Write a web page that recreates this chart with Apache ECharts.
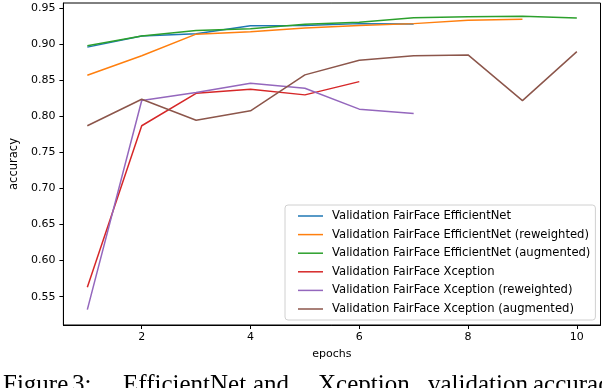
<!DOCTYPE html>
<html>
<head>
<meta charset="utf-8">
<script src="https://cdn.jsdelivr.net/npm/echarts@6/dist/echarts.min.js"></script>
<style>
  html, body { margin: 0; padding: 0; background: #fff; }
  #main { width: 602px; height: 388px; }
</style>
</head>
<body>
<div id="main"></div>
<script>
  // epochs on the x axis
  var epochs = [1, 2, 3, 4, 5, 6, 7, 8, 9, 10];
  var xTicks = [2, 4, 6, 8, 10];
  var yTicks = [0.55, 0.60, 0.65, 0.70, 0.75, 0.80, 0.85, 0.90, 0.95];

  var seriesNames = [
    'Validation FairFace EfficientNet',
    'Validation FairFace EfficientNet (reweighted)',
    'Validation FairFace EfficientNet (augmented)',
    'Validation FairFace Xception',
    'Validation FairFace Xception (reweighted)',
    'Validation FairFace Xception (augmented)'
  ];
  // accuracy per epoch
  var effNet = [0.896, 0.9115, 0.9147, 0.9258, 0.926, 0.9286, 0.928];
  var effNetReweighted = [0.857, 0.884, 0.914, 0.9175, 0.9226, 0.926, 0.9286, 0.9333, 0.9346];
  var effNetAugmented = [0.898, 0.9115, 0.919, 0.9216, 0.9277, 0.9305, 0.9368, 0.938, 0.9388, 0.9364];
  var xception = [0.563, 0.787, 0.832, 0.8377, 0.8298, 0.8482];
  var xceptionReweighted = [0.532, 0.822, 0.833, 0.846, 0.839, 0.810, 0.804];
  var xceptionAugmented = [0.787, 0.8238, 0.7947, 0.8077, 0.8575, 0.8778, 0.8842, 0.8852, 0.8218, 0.8898];

  var allValues = [effNet, effNetReweighted, effNetAugmented, xception, xceptionReweighted, xceptionAugmented];
  var colors = ['#1f77b4', '#ff7f0e', '#2ca02c', '#d62728', '#9467bd', '#8c564b'];

  var font = 'DejaVu Sans';

  function toPairs(vals) {
    var out = [];
    for (var i = 0; i < vals.length; i++) {
      out.push([epochs[i], vals[i]]);
    }
    return out;
  }

  var series = [];
  for (var i = 0; i < seriesNames.length; i++) {
    series.push({
      name: seriesNames[i],
      type: 'line',
      data: toPairs(allValues[i]),
      symbol: 'none',
      lineStyle: { width: 1.5, color: colors[i] },
      itemStyle: { color: colors[i] }
    });
  }

  // caption words (justified text in the paper), cut off by the page edge
  var captionWords = [
    ['Figure', 3], ['3:', 72], ['EfficientNet', 123], ['and', 253],
    ['Xception', 318], ['validation', 428], ['accuracy', 533]
  ];
  var graphics = captionWords.map(function (w) {
    return {
      type: 'text',
      left: w[1],
      top: 373,
      style: {
        text: w[0],
        font: '25px "Liberation Serif"',
        fill: '#000'
      }
    };
  });

  var myChart = echarts.init(document.getElementById('main'));
  var option = {
    animation: false,
    color: colors,
    grid: {
      left: 59, right: 1.5, top: 3, bottom: 63,
      show: true,
      borderColor: '#000',
      borderWidth: 1
    },
    legend: {
      orient: 'vertical',
      left: 285,
      top: 205,
      data: seriesNames,
      icon: 'rect',
      itemWidth: 25,
      itemHeight: 1.5,
      itemGap: 4.6,
      padding: [4, 5, 4, 13],
      backgroundColor: 'rgba(255,255,255,0.8)',
      borderColor: '#d0d0d0',
      borderWidth: 1,
      borderRadius: 3,
      textStyle: {
        fontFamily: font,
        fontSize: 11.6,
        color: '#000',
        lineHeight: 14,
        padding: [0, 0, 0, 4]
      }
    },
    xAxis: {
      type: 'value',
      min: 0.56,
      max: 10.435,
      name: 'epochs',
      nameLocation: 'middle',
      nameGap: 24,
      nameTextStyle: { fontFamily: font, fontSize: 11, color: '#000' },
      axisLine: { show: true, lineStyle: { color: '#000', width: 1 } },
      axisTick: { show: true, inside: false, length: 4, customValues: xTicks, lineStyle: { color: '#000' } },
      axisLabel: { customValues: xTicks, margin: 7, fontFamily: font, fontSize: 11, color: '#000' },
      splitLine: { show: false }
    },
    yAxis: {
      type: 'value',
      min: 0.5107,
      max: 0.9572,
      name: 'accuracy',
      nameLocation: 'middle',
      nameGap: 21,
      nameTextStyle: { fontFamily: font, fontSize: 11.5, color: '#000' },
      axisLine: { show: true, lineStyle: { color: '#000', width: 1 } },
      axisTick: { show: true, inside: false, length: 4, customValues: yTicks, lineStyle: { color: '#000' } },
      axisLabel: {
        customValues: yTicks,
        margin: 8,
        fontFamily: font,
        fontSize: 11,
        color: '#000',
        formatter: function (v) { return v.toFixed(2); }
      },
      splitLine: { show: false }
    },
    graphic: graphics,
    series: series
  };
  myChart.setOption(option);
</script>
</body>
</html>
